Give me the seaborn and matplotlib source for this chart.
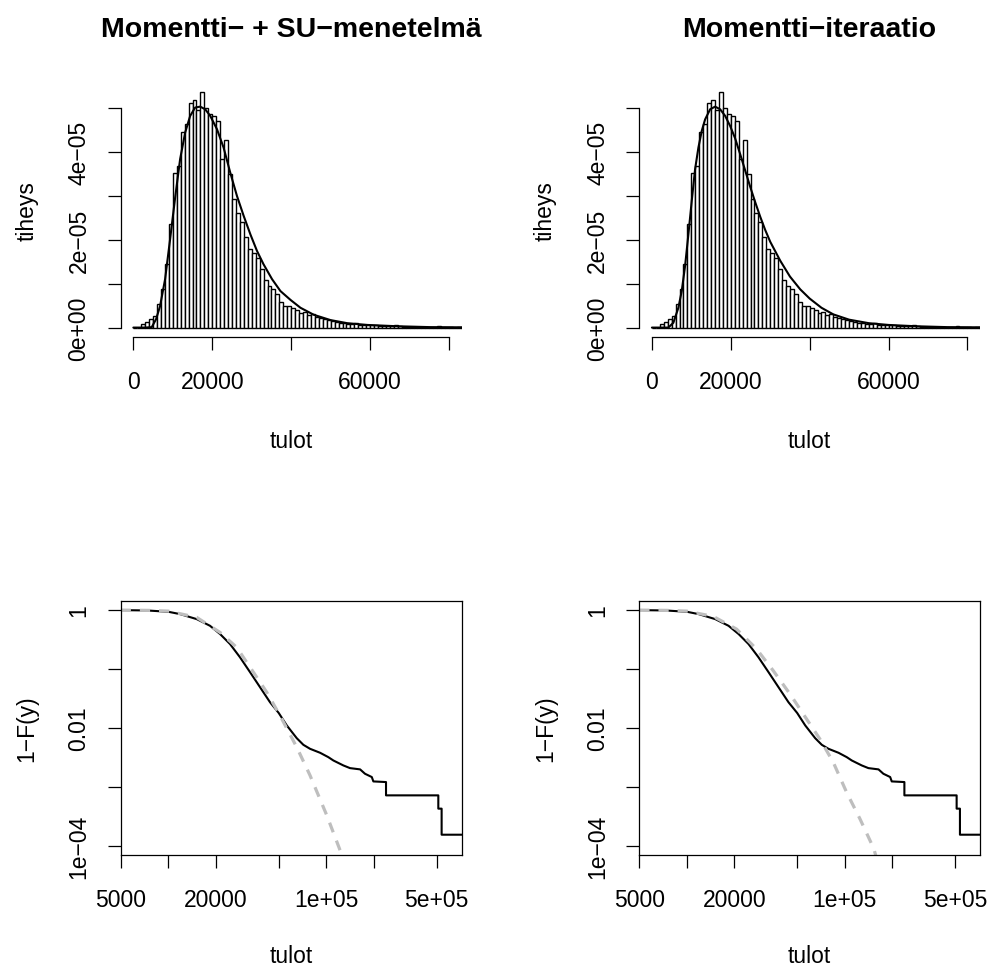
import numpy as np
import pandas as pd
import matplotlib
matplotlib.use("Agg")
import matplotlib.pyplot as plt
from matplotlib.ticker import NullLocator
import seaborn as sns

# histogram: 1000-wide bins from 0, density in units of 1e-05
bin_width = 1000
hist_dens = [0, 0, 0.09, 0.12, 0.20, 0.27, 0.53, 0.87, 1.44, 2.36,
             3.52, 3.67, 4.45, 4.62, 5.11, 5.17, 4.95, 5.35, 4.98, 4.86,
             4.81, 4.70, 3.84, 4.26, 3.49, 2.92, 2.61, 2.40, 2.05, 1.78,
             1.70, 1.58, 1.33, 1.07, 0.95, 0.87, 0.76, 0.57, 0.49, 0.49,
             0.45, 0.40, 0.34, 0.36, 0.29, 0.30, 0.25, 0.21, 0.20, 0.17,
             0.15, 0.12, 0.10, 0.11, 0.09, 0.08, 0.10, 0.07, 0.06, 0.06,
             0.05, 0.05, 0.04, 0.04, 0.03, 0.03, 0.05, 0.03, 0.02, 0.02,
             0.02, 0.02, 0.01, 0.02, 0.01, 0.01, 0.01, 0.04, 0.01, 0.01,
             0.01, 0.00, 0.01, 0.01, 0.00]

# fitted densities (units of 1e-05)
dens_left_x = [0, 3000, 4660, 5760, 6780, 8050, 9320, 10590, 11860, 13130,
               14400, 15670, 16940, 18210, 19480, 21180, 22870, 24560, 26260,
               27950, 29650, 31340, 32980, 35150, 37270, 39810, 42350, 45740,
               49970, 54210, 59290, 66910, 75380, 85000]
dens_left_y = [0, 0, 0.01, 0.19, 0.49, 1.10, 2.01, 2.95, 3.83, 4.43,
               4.81, 5.00, 5.02, 4.96, 4.81, 4.51, 4.09, 3.52, 2.99,
               2.54, 2.12, 1.74, 1.44, 1.10, 0.83, 0.63, 0.45, 0.29,
               0.17, 0.10, 0.06, 0.03, 0.01, 0.005]

dens_right_x = [0, 3000, 4170, 5440, 6710, 7560, 8410, 9250, 10100, 10950,
                11790, 12640, 13490, 14760, 16030, 17300, 18570, 19840, 21100,
                22380, 23650, 24920, 26190, 27460, 28720, 30000, 32540, 35000,
                37600, 40000, 43000, 46000, 50000, 55000, 60000, 67000, 75000,
                85000]
dens_right_y = [0, 0, 0.0, 0.11, 0.45, 0.83, 1.40, 2.12, 2.88, 3.60,
                4.09, 4.47, 4.73, 4.96, 5.02, 4.96, 4.81, 4.58, 4.30,
                3.94, 3.57, 3.20, 2.85, 2.52, 2.22, 1.95, 1.52, 1.16,
                0.87, 0.66, 0.45, 0.30, 0.18, 0.10, 0.06, 0.03, 0.01,
                0.005]

# empirical survival 1-F(y)
surv_x = [5000, 7310, 10020, 11890, 15140, 18370, 21280, 24600, 28440, 32960,
          38110, 44060, 50000, 56230, 65010, 71610, 78890, 91410, 103000,
          110900, 128200, 141300, 163700, 175800, 194100, 198600, 238800,
          238800, 247200, 511700, 511700, 537000, 537000, 720000]
surv_y = [1.0, 0.987, 0.937, 0.855, 0.703, 0.542, 0.392, 0.265, 0.158, 0.0879,
          0.0489, 0.0272, 0.0179, 0.0110, 0.00668, 0.00515, 0.00441, 0.00377,
          0.00318, 0.00279, 0.00230, 0.00207, 0.00197, 0.00166, 0.00146,
          0.00123, 0.00120, 0.000713, 0.000713, 0.000713, 0.000424, 0.000424,
          0.000153, 0.000153]

# fitted survival curves
fit_left_x = [5000, 7500, 10020, 15140, 21280, 27100, 34590, 41980, 50930,
              65010, 78890, 100700, 125300, 131800]
fit_left_y = [1.0, 0.99, 0.962, 0.752, 0.418, 0.233, 0.0879, 0.0403, 0.0162,
              0.0047, 0.00156, 3.27e-4, 7.0e-5, 5.0e-5]
fit_right_x = [5000, 7500, 9980, 14690, 20650, 27670, 35240, 44980, 57280,
               69500, 84530, 102600, 124700, 152800, 158500]
fit_right_y = [1.0, 0.99, 0.962, 0.782, 0.476, 0.218, 0.0938, 0.0377, 0.0142,
               0.00652, 0.00262, 8.13e-4, 2.87e-4, 8.9e-5, 6.3e-5]

titles = ["Momentti\u2212 + SU\u2212menetelm\u00e4", "Momentti\u2212iteraatio"]

sns.set_theme(style="ticks")
plt.rcParams["font.family"] = ["Liberation Sans", "DejaVu Sans"]
plt.rcParams["axes.edgecolor"] = "black"
plt.rcParams["xtick.color"] = "black"
plt.rcParams["ytick.color"] = "black"
plt.rcParams["text.color"] = "black"

W, H = 991, 970
fig = plt.figure(figsize=(W / 100, H / 100), dpi=100)

FS = 16.5
TICKLEN = 9.7


def px_axes(x0, y0, x1, y1):
    return fig.add_axes([x0 / W, 1 - y1 / H, (x1 - x0) / W, (y1 - y0) / H])


n_bins = len(hist_dens)
hist_df = pd.DataFrame({"mid": np.arange(n_bins) * bin_width + bin_width / 2,
                        "dens": np.array(hist_dens) * 1e-5})
ymax = max(hist_dens) * 1e-5

panels = [(120.7, 461.7, dens_left_x, dens_left_y, fit_left_x, fit_left_y),
          (639.3, 980.0, dens_right_x, dens_right_y, fit_right_x, fit_right_y)]

for i, (x0, x1, dx, dy, fx, fy) in enumerate(panels):
    # --- histogram with fitted density ---
    ax = px_axes(x0, 83.7, x1, 338)
    sns.histplot(data=hist_df, x="mid", weights="dens", binwidth=bin_width,
                 binrange=(0, n_bins * bin_width), stat="count",
                 color="white", edgecolor="black", linewidth=1.0, alpha=1, ax=ax)
    sns.lineplot(x=np.array(dx), y=np.array(dy) * 1e-5, color="black",
                 linewidth=1.5, estimator=None, ax=ax)
    ax.set_xlim(-3200, 83200)
    ax.set_ylim(-0.04 * ymax, 1.04 * ymax)
    ax.set_xticks([0, 20000, 40000, 60000, 80000],
                  labels=["0", "20000", "", "60000", ""])
    ax.set_yticks(np.arange(6) * 1e-5,
                  labels=["0e+00", "", "2e\u221205", "", "4e\u221205", ""])
    for s in ["top", "right"]:
        ax.spines[s].set_visible(False)
    ax.spines["left"].set_bounds(0, 5e-5)
    ax.spines["bottom"].set_bounds(0, 80000)
    ax.set_xlabel("")
    ax.set_ylabel("")
    ax.tick_params(axis="x", direction="out", length=TICKLEN, width=0.9,
                   labelsize=FS, pad=14)
    ax.tick_params(axis="y", direction="out", length=TICKLEN, width=0.9,
                   labelsize=FS, pad=12, labelrotation=90)
    for lab in ax.get_yticklabels():
        lab.set_va("center")
    for s in ax.spines.values():
        s.set_linewidth(0.9)

    # --- survival on log-log scale ---
    bx = px_axes(x0, 601.7, x1, 856)
    sns.lineplot(x=surv_x, y=surv_y, color="black", linewidth=1.5,
                 estimator=None, sort=False, ax=bx)
    sns.lineplot(x=fx, y=fy, color="#BEBEBE", linewidth=2.3,
                 linestyle=(0, (3.2, 2.8)), estimator=None, sort=False, ax=bx)
    bx.set_xscale("log")
    bx.set_yscale("log")
    bx.set_xlim(5000, 10 ** 5.857)
    bx.set_ylim(10 ** -4.16, 10 ** 0.16)
    bx.set_xticks([5000, 1e4, 2e4, 5e4, 1e5, 2e5, 5e5],
                  labels=["5000", "", "20000", "", "1e+05", "", "5e+05"])
    bx.set_yticks([1, 0.1, 0.01, 0.001, 1e-4],
                  labels=["1", "", "0.01", "", "1e\u221204"])
    bx.xaxis.set_minor_locator(NullLocator())
    bx.yaxis.set_minor_locator(NullLocator())
    bx.set_xlabel("")
    bx.set_ylabel("")
    bx.tick_params(axis="x", direction="out", length=TICKLEN, width=0.9,
                   labelsize=FS, pad=14)
    bx.tick_params(axis="y", direction="out", length=TICKLEN, width=0.9,
                   labelsize=FS, pad=12, labelrotation=90)
    for lab in bx.get_yticklabels():
        lab.set_va("center")
    for s in bx.spines.values():
        s.set_linewidth(0.9)

    xc = (x0 + x1) / 2 / W
    off = x0 - 120.7
    fig.text(xc, 1 - 37 / H, titles[i], ha="center", va="baseline",
             fontsize=20.5, fontweight="bold")
    fig.text(xc, 1 - 442 / H, "tulot", ha="center", va="center", fontsize=FS)
    fig.text(xc, 1 - 957 / H, "tulot", ha="center", va="center", fontsize=FS)
    fig.text((27 + off) / W, 1 - 210.9 / H, "tiheys", ha="center", va="center",
             rotation=90, fontsize=FS)
    fig.text((27 + off) / W, 1 - 728.9 / H, "1\u2212F(y)", ha="center",
             va="center", rotation=90, fontsize=FS)

fig.savefig("out.png", dpi=100, facecolor="white")
